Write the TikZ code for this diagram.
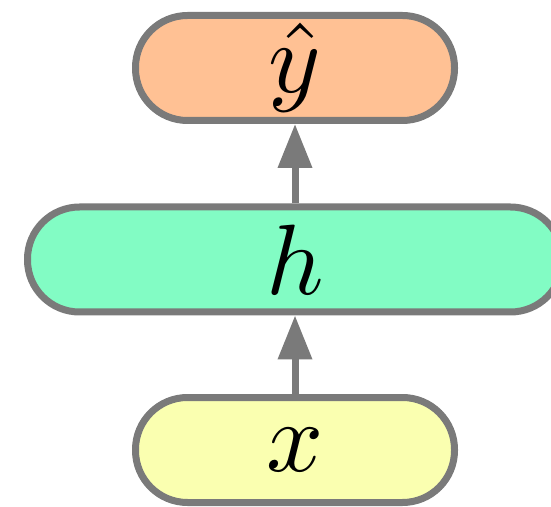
\documentclass[tikz,border=0pt]{standalone}
\usepackage{graphicx}
\usetikzlibrary{arrows.meta}
\usetikzlibrary{positioning}
\definecolor{edgegray}{RGB}{122,122,122}
\definecolor{outfill}{RGB}{255,193,148}
\definecolor{hidfill}{RGB}{130,252,196}
\definecolor{infill}{RGB}{250,255,176}
\begin{document}
\begin{tikzpicture}[
				x=1pt,
				y=1pt,
				layer/.style={draw=edgegray, line width=7pt, rounded corners=52pt,
					minimum height=105pt, inner sep=0pt},
				link/.style={draw=edgegray, line width=7pt,
					-{Triangle[length=44pt,width=33pt]}}
				]
				\useasboundingbox (0,0) rectangle (551,506);
				
				% Layers
				\node[layer, fill=infill, minimum width=319pt] (x) at (295,56) {\scalebox{10}{$x$}};
				\node[layer, fill=hidfill, minimum width=535pt] (h) at (295,246.5) {\scalebox{10}{$h$}};
				\node[layer, fill=outfill, minimum width=319pt] (yhat) at (295,438) {\scalebox{10}{$\hat{y}$}};
				
				% Connections
				\draw[link] (x.north) -- (h.south);
				\draw[link] (h.north) -- (yhat.south);
			\end{tikzpicture}
\end{document}
